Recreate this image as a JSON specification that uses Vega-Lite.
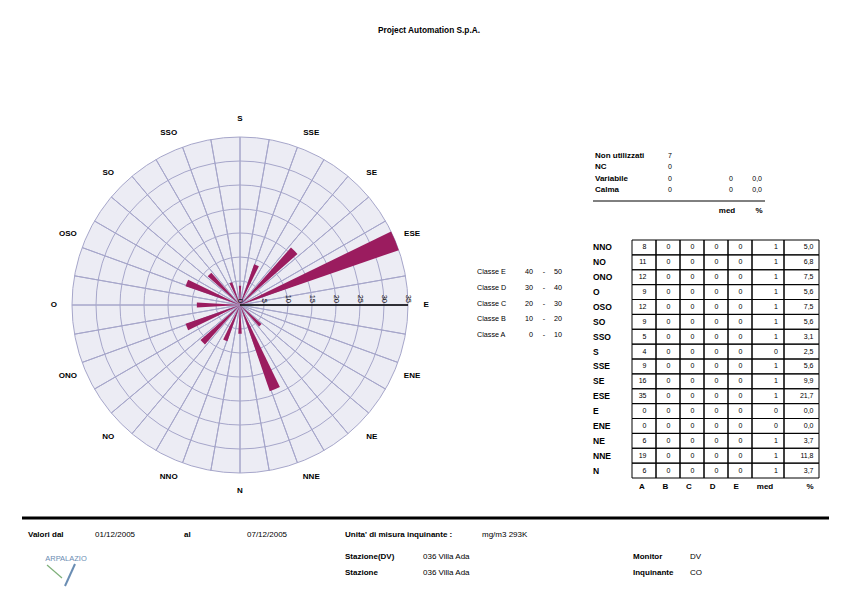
{
  "$schema": "https://vega.github.io/schema/vega-lite/v6.json",
  "padding": 0,
  "background": "white",
  "spacing": 0,
  "config": {
    "view": {"stroke": null},
    "axis": {"disable": true},
    "legend": {"disable": true},
    "font": "Liberation Sans",
    "text": {"font": "Liberation Sans", "color": "#000000"},
    "locale": {"number": {"decimal": ",", "thousands": ".", "grouping": [3], "currency": ["€", ""]}}
  },
  "datasets": {
    "winds": [
      {"dir": "N", "deg": 0, "A": 6, "B": 0, "C": 0, "D": 0, "E": 0, "med": 1, "pct": 3.7},
      {"dir": "NNE", "deg": 22.5, "A": 19, "B": 0, "C": 0, "D": 0, "E": 0, "med": 1, "pct": 11.8},
      {"dir": "NE", "deg": 45, "A": 6, "B": 0, "C": 0, "D": 0, "E": 0, "med": 1, "pct": 3.7},
      {"dir": "ENE", "deg": 67.5, "A": 0, "B": 0, "C": 0, "D": 0, "E": 0, "med": 0, "pct": 0},
      {"dir": "E", "deg": 90, "A": 0, "B": 0, "C": 0, "D": 0, "E": 0, "med": 0, "pct": 0},
      {"dir": "ESE", "deg": 112.5, "A": 35, "B": 0, "C": 0, "D": 0, "E": 0, "med": 1, "pct": 21.7},
      {"dir": "SE", "deg": 135, "A": 16, "B": 0, "C": 0, "D": 0, "E": 0, "med": 1, "pct": 9.9},
      {"dir": "SSE", "deg": 157.5, "A": 9, "B": 0, "C": 0, "D": 0, "E": 0, "med": 1, "pct": 5.6},
      {"dir": "S", "deg": 180, "A": 4, "B": 0, "C": 0, "D": 0, "E": 0, "med": 0, "pct": 2.5},
      {"dir": "SSO", "deg": 202.5, "A": 5, "B": 0, "C": 0, "D": 0, "E": 0, "med": 1, "pct": 3.1},
      {"dir": "SO", "deg": 225, "A": 9, "B": 0, "C": 0, "D": 0, "E": 0, "med": 1, "pct": 5.6},
      {"dir": "OSO", "deg": 247.5, "A": 12, "B": 0, "C": 0, "D": 0, "E": 0, "med": 1, "pct": 7.5},
      {"dir": "O", "deg": 270, "A": 9, "B": 0, "C": 0, "D": 0, "E": 0, "med": 1, "pct": 5.6},
      {"dir": "ONO", "deg": 292.5, "A": 12, "B": 0, "C": 0, "D": 0, "E": 0, "med": 1, "pct": 7.5},
      {"dir": "NO", "deg": 315, "A": 11, "B": 0, "C": 0, "D": 0, "E": 0, "med": 1, "pct": 6.8},
      {"dir": "NNO", "deg": 337.5, "A": 8, "B": 0, "C": 0, "D": 0, "E": 0, "med": 1, "pct": 5.0}
    ],
    "rings": [{"r": 5}, {"r": 10}, {"r": 15}, {"r": 20}, {"r": 25}, {"r": 30}, {"r": 35}],
    "spokes": [
      {"a": 0}, {"a": 10}, {"a": 20}, {"a": 30}, {"a": 40}, {"a": 50}, {"a": 60}, {"a": 70}, {"a": 80},
      {"a": 90}, {"a": 100}, {"a": 110}, {"a": 120}, {"a": 130}, {"a": 140}, {"a": 150}, {"a": 160}, {"a": 170},
      {"a": 180}, {"a": 190}, {"a": 200}, {"a": 210}, {"a": 220}, {"a": 230}, {"a": 240}, {"a": 250}, {"a": 260},
      {"a": 270}, {"a": 280}, {"a": 290}, {"a": 300}, {"a": 310}, {"a": 320}, {"a": 330}, {"a": 340}, {"a": 350}
    ],
    "ticks": [{"v": 0}, {"v": 5}, {"v": 10}, {"v": 15}, {"v": 20}, {"v": 25}, {"v": 30}, {"v": 35}],
    "classes": [
      {"cls": "Classe A", "from": 0, "to": 10},
      {"cls": "Classe B", "from": 10, "to": 20},
      {"cls": "Classe C", "from": 20, "to": 30},
      {"cls": "Classe D", "from": 30, "to": 40},
      {"cls": "Classe E", "from": 40, "to": 50}
    ],
    "calma": [
      {"label": "Non utilizzati", "n": 7},
      {"label": "NC", "n": 0},
      {"label": "Variabile", "n": 0, "med": 0, "pct": 0},
      {"label": "Calma", "n": 0, "med": 0, "pct": 0}
    ],
    "cols": [{"key": "A"}, {"key": "B"}, {"key": "C"}, {"key": "D"}, {"key": "E"}],
    "meta": [
      {"line": 1, "grp": "a", "label": "Valori dal", "value": "01/12/2005"},
      {"line": 1, "grp": "b", "label": "al", "value": "07/12/2005"},
      {"line": 1, "grp": "c", "label": "Unita' di misura inquinante :", "value": "mg/m3 293K"},
      {"line": 2, "grp": "d", "label": "Stazione(DV)", "value": "036 Villa Ada"},
      {"line": 3, "grp": "d", "label": "Stazione", "value": "036 Villa Ada"},
      {"line": 2, "grp": "e", "label": "Monitor", "value": "DV"},
      {"line": 3, "grp": "e", "label": "Inquinante", "value": "CO"}
    ],
    "company": [{"name": "Project Automation S.p.A.", "logo": "ARPALAZIO"}]
  },
  "vconcat": [
    {
      "width": 866,
      "height": 95,
      "data": {"name": "company"},
      "mark": {"type": "text", "fontWeight": "bold", "fontSize": 8.3, "align": "center", "baseline": "middle"},
      "encoding": {
        "x": {"datum": 429, "type": "quantitative", "scale": {"domain": [0, 866], "range": [0, 866], "nice": false, "zero": false}},
        "y": {"datum": 31, "type": "quantitative", "scale": {"domain": [0, 95], "range": [0, 95], "nice": false, "zero": false}},
        "text": {"field": "name"}
      }
    },
    {
      "hconcat": [
        {
          "width": 480,
          "height": 420,
          "layer": [
            {
              "data": {"name": "rings"},
              "transform": [{"filter": "datum.r == 35"}],
              "mark": {"type": "arc", "theta": 0, "theta2": 6.2832, "fill": "#ececf4"},
              "encoding": {"radius": {"field": "r", "type": "quantitative", "stack": null, "scale": {"type": "linear", "domain": [0, 35], "range": [0, 168], "nice": false, "zero": true}}}
            },
            {
              "data": {"name": "rings"},
              "mark": {"type": "arc", "theta": 0, "theta2": 6.2832, "fillOpacity": 0, "stroke": "#a6a6ca", "strokeWidth": 1},
              "encoding": {"radius": {"field": "r", "type": "quantitative", "stack": null, "scale": {"type": "linear", "domain": [0, 35], "range": [0, 168], "nice": false, "zero": true}}}
            },
            {
              "data": {"name": "spokes"},
              "mark": {"type": "arc", "fillOpacity": 0, "stroke": "#a6a6ca", "strokeWidth": 1},
              "encoding": {
                "theta": {"field": "a", "type": "quantitative", "stack": null, "scale": {"type": "linear", "domain": [0, 360], "range": [3.14159265, -3.14159265], "nice": false, "zero": false}},
                "theta2": {"field": "a"},
                "radius": {"datum": 35, "type": "quantitative", "scale": {"type": "linear", "domain": [0, 35], "range": [0, 168], "nice": false, "zero": true}}
              }
            },
            {
              "data": {"name": "winds"},
              "mark": {"type": "arc", "thetaOffset": -0.06, "theta2Offset": 0.06, "fill": "#9b1c5f"},
              "encoding": {
                "theta": {"field": "deg", "type": "quantitative", "stack": null, "scale": {"type": "linear", "domain": [0, 360], "range": [3.14159265, -3.14159265], "nice": false, "zero": false}},
                "theta2": {"field": "deg"},
                "radius": {"field": "A", "type": "quantitative", "stack": null, "scale": {"type": "linear", "domain": [0, 35], "range": [0, 168], "nice": false, "zero": true}}
              }
            },
            {
              "data": {"name": "winds"},
              "transform": [{"filter": "datum.dir == 'E'"}],
              "mark": {"type": "arc", "fillOpacity": 0, "stroke": "#000000", "strokeWidth": 1.3},
              "encoding": {
                "theta": {"field": "deg", "type": "quantitative", "stack": null, "scale": {"type": "linear", "domain": [0, 360], "range": [3.14159265, -3.14159265], "nice": false, "zero": false}},
                "theta2": {"field": "deg"},
                "radius": {"datum": 35, "type": "quantitative", "scale": {"type": "linear", "domain": [0, 35], "range": [0, 168], "nice": false, "zero": true}}
              }
            },
            {
              "data": {"name": "ticks"},
              "mark": {"type": "text", "angle": 90, "align": "right", "baseline": "middle", "fontSize": 7.5, "dx": -2},
              "encoding": {
                "theta": {"datum": 90, "type": "quantitative", "scale": {"type": "linear", "domain": [0, 360], "range": [3.14159265, -3.14159265], "nice": false, "zero": false}},
                "radius": {"field": "v", "type": "quantitative", "stack": null, "scale": {"type": "linear", "domain": [0, 35], "range": [0, 168], "nice": false, "zero": true}},
                "text": {"field": "v", "type": "quantitative"}
              }
            },
            {
              "data": {"name": "winds"},
              "mark": {"type": "text", "fontWeight": "bold", "fontSize": 8, "align": "center", "baseline": "middle"},
              "encoding": {
                "theta": {"field": "deg", "type": "quantitative", "stack": null, "scale": {"type": "linear", "domain": [0, 360], "range": [3.14159265, -3.14159265], "nice": false, "zero": false}},
                "radius": {"datum": 38.8, "type": "quantitative", "scale": {"type": "linear", "domain": [0, 35], "range": [0, 168], "nice": false, "zero": true}},
                "text": {"field": "dir", "type": "nominal"}
              }
            }
          ]
        },
        {
          "width": 386,
          "height": 420,
          "resolve": {"scale": {"x": "independent", "y": "independent"}},
          "layer": [
            {
              "data": {"name": "classes"},
              "mark": {"type": "text", "align": "left", "baseline": "middle", "fontSize": 7.2},
              "encoding": {
                "x": {"datum": 477, "type": "quantitative", "scale": {"domain": [480, 866], "range": [0, 386], "nice": false, "zero": false}},
                "y": {"field": "cls", "type": "nominal", "scale": {"type": "point", "domain": ["Classe E", "Classe D", "Classe C", "Classe B", "Classe A"], "range": [177, 240], "padding": 0}},
                "text": {"field": "cls", "type": "nominal"}
              }
            },
            {
              "data": {"name": "classes"},
              "mark": {"type": "text", "align": "right", "baseline": "middle", "fontSize": 7.2},
              "encoding": {
                "x": {"datum": 533, "type": "quantitative", "scale": {"domain": [480, 866], "range": [0, 386], "nice": false, "zero": false}},
                "y": {"field": "cls", "type": "nominal", "scale": {"type": "point", "domain": ["Classe E", "Classe D", "Classe C", "Classe B", "Classe A"], "range": [177, 240], "padding": 0}},
                "text": {"field": "from", "type": "quantitative"}
              }
            },
            {
              "data": {"name": "classes"},
              "mark": {"type": "text", "align": "center", "baseline": "middle", "fontSize": 7.2},
              "encoding": {
                "x": {"datum": 544, "type": "quantitative", "scale": {"domain": [480, 866], "range": [0, 386], "nice": false, "zero": false}},
                "y": {"field": "cls", "type": "nominal", "scale": {"type": "point", "domain": ["Classe E", "Classe D", "Classe C", "Classe B", "Classe A"], "range": [177, 240], "padding": 0}},
                "text": {"value": "-"}
              }
            },
            {
              "data": {"name": "classes"},
              "mark": {"type": "text", "align": "right", "baseline": "middle", "fontSize": 7.2},
              "encoding": {
                "x": {"datum": 562, "type": "quantitative", "scale": {"domain": [480, 866], "range": [0, 386], "nice": false, "zero": false}},
                "y": {"field": "cls", "type": "nominal", "scale": {"type": "point", "domain": ["Classe E", "Classe D", "Classe C", "Classe B", "Classe A"], "range": [177, 240], "padding": 0}},
                "text": {"field": "to", "type": "quantitative"}
              }
            },
            {
              "data": {"name": "calma"},
              "mark": {"type": "text", "align": "left", "baseline": "middle", "fontSize": 8, "fontWeight": "bold"},
              "encoding": {
                "x": {"datum": 595, "type": "quantitative", "scale": {"domain": [480, 866], "range": [0, 386], "nice": false, "zero": false}},
                "y": {"field": "label", "type": "nominal", "scale": {"type": "point", "domain": ["Non utilizzati", "NC", "Variabile", "Calma"], "range": [61, 95], "padding": 0}},
                "text": {"field": "label", "type": "nominal"}
              }
            },
            {
              "data": {"name": "calma"},
              "mark": {"type": "text", "align": "center", "baseline": "middle", "fontSize": 7},
              "encoding": {
                "x": {"datum": 670, "type": "quantitative", "scale": {"domain": [480, 866], "range": [0, 386], "nice": false, "zero": false}},
                "y": {"field": "label", "type": "nominal", "scale": {"type": "point", "domain": ["Non utilizzati", "NC", "Variabile", "Calma"], "range": [61, 95], "padding": 0}},
                "text": {"field": "n", "type": "quantitative"}
              }
            },
            {
              "data": {"name": "calma"},
              "transform": [{"filter": "isValid(datum.med)"}],
              "mark": {"type": "text", "align": "center", "baseline": "middle", "fontSize": 7},
              "encoding": {
                "x": {"datum": 731, "type": "quantitative", "scale": {"domain": [480, 866], "range": [0, 386], "nice": false, "zero": false}},
                "y": {"field": "label", "type": "nominal", "scale": {"type": "point", "domain": ["Non utilizzati", "NC", "Variabile", "Calma"], "range": [61, 95], "padding": 0}},
                "text": {"field": "med", "type": "quantitative"}
              }
            },
            {
              "data": {"name": "calma"},
              "transform": [{"filter": "isValid(datum.pct)"}],
              "mark": {"type": "text", "align": "right", "baseline": "middle", "fontSize": 7},
              "encoding": {
                "x": {"datum": 762, "type": "quantitative", "scale": {"domain": [480, 866], "range": [0, 386], "nice": false, "zero": false}},
                "y": {"field": "label", "type": "nominal", "scale": {"type": "point", "domain": ["Non utilizzati", "NC", "Variabile", "Calma"], "range": [61, 95], "padding": 0}},
                "text": {"field": "pct", "type": "quantitative", "format": ".1f"}
              }
            },
            {
              "data": {"name": "calma"},
              "transform": [{"filter": "datum.label == 'Calma'"}],
              "mark": {"type": "rule", "stroke": "#000000", "strokeWidth": 1},
              "encoding": {
                "x": {"datum": 593, "type": "quantitative", "scale": {"domain": [480, 866], "range": [0, 386], "nice": false, "zero": false}},
                "x2": {"datum": 765},
                "y": {"datum": 201, "type": "quantitative", "scale": {"domain": [95, 515], "range": [0, 420], "nice": false, "zero": false}}
              }
            },
            {
              "data": {"name": "calma"},
              "transform": [{"filter": "datum.label == 'Calma'"}],
              "mark": {"type": "text", "align": "center", "baseline": "middle", "fontSize": 8, "fontWeight": "bold"},
              "encoding": {
                "x": {"datum": 727, "type": "quantitative", "scale": {"domain": [480, 866], "range": [0, 386], "nice": false, "zero": false}},
                "y": {"datum": 211, "type": "quantitative", "scale": {"domain": [95, 515], "range": [0, 420], "nice": false, "zero": false}},
                "text": {"value": "med"}
              }
            },
            {
              "data": {"name": "calma"},
              "transform": [{"filter": "datum.label == 'Calma'"}],
              "mark": {"type": "text", "align": "center", "baseline": "middle", "fontSize": 8, "fontWeight": "bold"},
              "encoding": {
                "x": {"datum": 759, "type": "quantitative", "scale": {"domain": [480, 866], "range": [0, 386], "nice": false, "zero": false}},
                "y": {"datum": 211, "type": "quantitative", "scale": {"domain": [95, 515], "range": [0, 420], "nice": false, "zero": false}},
                "text": {"value": "%"}
              }
            },
            {
              "data": {"name": "winds"},
              "transform": [{"fold": ["A", "B", "C", "D", "E"], "as": ["key", "value"]}],
              "mark": {"type": "rect", "fillOpacity": 0, "stroke": "#000000", "strokeWidth": 1},
              "encoding": {
                "x": {"field": "key", "type": "nominal", "scale": {"type": "band", "domain": ["A", "B", "C", "D", "E"], "range": [152, 272], "paddingInner": 0, "paddingOuter": 0}},
                "y": {"field": "dir", "type": "nominal", "scale": {"type": "band", "domain": ["NNO", "NO", "ONO", "O", "OSO", "SO", "SSO", "S", "SSE", "SE", "ESE", "E", "ENE", "NE", "NNE", "N"], "range": [145, 383], "paddingInner": 0, "paddingOuter": 0}}
              }
            },
            {
              "data": {"name": "winds"},
              "mark": {"type": "rect", "fillOpacity": 0, "stroke": "#000000", "strokeWidth": 1},
              "encoding": {
                "x": {"datum": 752, "type": "quantitative", "scale": {"domain": [480, 866], "range": [0, 386], "nice": false, "zero": false}},
                "x2": {"datum": 784},
                "y": {"field": "dir", "type": "nominal", "scale": {"type": "band", "domain": ["NNO", "NO", "ONO", "O", "OSO", "SO", "SSO", "S", "SSE", "SE", "ESE", "E", "ENE", "NE", "NNE", "N"], "range": [145, 383], "paddingInner": 0, "paddingOuter": 0}}
              }
            },
            {
              "data": {"name": "winds"},
              "mark": {"type": "rect", "fillOpacity": 0, "stroke": "#000000", "strokeWidth": 1},
              "encoding": {
                "x": {"datum": 784, "type": "quantitative", "scale": {"domain": [480, 866], "range": [0, 386], "nice": false, "zero": false}},
                "x2": {"datum": 819},
                "y": {"field": "dir", "type": "nominal", "scale": {"type": "band", "domain": ["NNO", "NO", "ONO", "O", "OSO", "SO", "SSO", "S", "SSE", "SE", "ESE", "E", "ENE", "NE", "NNE", "N"], "range": [145, 383], "paddingInner": 0, "paddingOuter": 0}}
              }
            },
            {
              "data": {"name": "winds"},
              "transform": [{"fold": ["A", "B", "C", "D", "E"], "as": ["key", "value"]}],
              "mark": {"type": "text", "align": "right", "baseline": "middle", "fontSize": 7, "dx": 2.5},
              "encoding": {
                "x": {"field": "key", "type": "nominal", "scale": {"type": "band", "domain": ["A", "B", "C", "D", "E"], "range": [152, 272], "paddingInner": 0, "paddingOuter": 0}},
                "y": {"field": "dir", "type": "nominal", "scale": {"type": "band", "domain": ["NNO", "NO", "ONO", "O", "OSO", "SO", "SSO", "S", "SSE", "SE", "ESE", "E", "ENE", "NE", "NNE", "N"], "range": [145, 383], "paddingInner": 0, "paddingOuter": 0}},
                "text": {"field": "value", "type": "quantitative"}
              }
            },
            {
              "data": {"name": "winds"},
              "mark": {"type": "text", "align": "right", "baseline": "middle", "fontSize": 7},
              "encoding": {
                "x": {"datum": 778, "type": "quantitative", "scale": {"domain": [480, 866], "range": [0, 386], "nice": false, "zero": false}},
                "y": {"field": "dir", "type": "nominal", "scale": {"type": "band", "domain": ["NNO", "NO", "ONO", "O", "OSO", "SO", "SSO", "S", "SSE", "SE", "ESE", "E", "ENE", "NE", "NNE", "N"], "range": [145, 383], "paddingInner": 0, "paddingOuter": 0}},
                "text": {"field": "med", "type": "quantitative"}
              }
            },
            {
              "data": {"name": "winds"},
              "mark": {"type": "text", "align": "right", "baseline": "middle", "fontSize": 7},
              "encoding": {
                "x": {"datum": 813.5, "type": "quantitative", "scale": {"domain": [480, 866], "range": [0, 386], "nice": false, "zero": false}},
                "y": {"field": "dir", "type": "nominal", "scale": {"type": "band", "domain": ["NNO", "NO", "ONO", "O", "OSO", "SO", "SSO", "S", "SSE", "SE", "ESE", "E", "ENE", "NE", "NNE", "N"], "range": [145, 383], "paddingInner": 0, "paddingOuter": 0}},
                "text": {"field": "pct", "type": "quantitative", "format": ".1f"}
              }
            },
            {
              "data": {"name": "winds"},
              "mark": {"type": "text", "align": "left", "baseline": "middle", "fontSize": 8.5, "fontWeight": "bold"},
              "encoding": {
                "x": {"datum": 593, "type": "quantitative", "scale": {"domain": [480, 866], "range": [0, 386], "nice": false, "zero": false}},
                "y": {"field": "dir", "type": "nominal", "scale": {"type": "band", "domain": ["NNO", "NO", "ONO", "O", "OSO", "SO", "SSO", "S", "SSE", "SE", "ESE", "E", "ENE", "NE", "NNE", "N"], "range": [145, 383], "paddingInner": 0, "paddingOuter": 0}},
                "text": {"field": "dir", "type": "nominal"}
              }
            },
            {
              "data": {"name": "cols"},
              "mark": {"type": "text", "align": "center", "baseline": "middle", "fontSize": 8, "fontWeight": "bold"},
              "encoding": {
                "x": {"field": "key", "type": "nominal", "scale": {"type": "band", "domain": ["A", "B", "C", "D", "E"], "range": [150, 268], "paddingInner": 0, "paddingOuter": 0}},
                "y": {"datum": 487, "type": "quantitative", "scale": {"domain": [95, 515], "range": [0, 420], "nice": false, "zero": false}},
                "text": {"field": "key", "type": "nominal"}
              }
            },
            {
              "data": {"name": "company"},
              "mark": {"type": "text", "align": "center", "baseline": "middle", "fontSize": 8, "fontWeight": "bold"},
              "encoding": {
                "x": {"datum": 765, "type": "quantitative", "scale": {"domain": [480, 866], "range": [0, 386], "nice": false, "zero": false}},
                "y": {"datum": 487, "type": "quantitative", "scale": {"domain": [95, 515], "range": [0, 420], "nice": false, "zero": false}},
                "text": {"value": "med"}
              }
            },
            {
              "data": {"name": "company"},
              "mark": {"type": "text", "align": "center", "baseline": "middle", "fontSize": 8, "fontWeight": "bold"},
              "encoding": {
                "x": {"datum": 810, "type": "quantitative", "scale": {"domain": [480, 866], "range": [0, 386], "nice": false, "zero": false}},
                "y": {"datum": 487, "type": "quantitative", "scale": {"domain": [95, 515], "range": [0, 420], "nice": false, "zero": false}},
                "text": {"value": "%"}
              }
            }
          ]
        }
      ],
      "spacing": 0,
      "bounds": "flush"
    },
    {
      "width": 866,
      "height": 98,
      "resolve": {"scale": {"x": "independent", "y": "independent"}},
      "layer": [
        {
          "data": {"name": "company"},
          "mark": {"type": "rule", "stroke": "#000000", "strokeWidth": 3},
          "encoding": {
            "x": {"datum": 22, "type": "quantitative", "scale": {"domain": [0, 866], "range": [0, 866], "nice": false, "zero": false}},
            "x2": {"datum": 829},
            "y": {"datum": 518, "type": "quantitative", "scale": {"domain": [515, 613], "range": [0, 98], "nice": false, "zero": false}}
          }
        },
        {
          "data": {"name": "company"},
          "mark": {"type": "rule", "stroke": "#7fb07a", "strokeWidth": 1.2},
          "encoding": {
            "x": {"datum": 47, "type": "quantitative", "scale": {"domain": [0, 866], "range": [0, 866], "nice": false, "zero": false}},
            "x2": {"datum": 62},
            "y": {"datum": 565, "type": "quantitative", "scale": {"domain": [515, 613], "range": [0, 98], "nice": false, "zero": false}},
            "y2": {"datum": 578}
          }
        },
        {
          "data": {"name": "company"},
          "mark": {"type": "rule", "stroke": "#6a8db3", "strokeWidth": 2},
          "encoding": {
            "x": {"datum": 75, "type": "quantitative", "scale": {"domain": [0, 866], "range": [0, 866], "nice": false, "zero": false}},
            "x2": {"datum": 65},
            "y": {"datum": 564, "type": "quantitative", "scale": {"domain": [515, 613], "range": [0, 98], "nice": false, "zero": false}},
            "y2": {"datum": 586}
          }
        },
        {
          "data": {"name": "company"},
          "mark": {"type": "text", "align": "center", "baseline": "middle", "fontSize": 7.5, "color": "#6a8db3"},
          "encoding": {
            "x": {"datum": 66, "type": "quantitative", "scale": {"domain": [0, 866], "range": [0, 866], "nice": false, "zero": false}},
            "y": {"datum": 559, "type": "quantitative", "scale": {"domain": [515, 613], "range": [0, 98], "nice": false, "zero": false}},
            "text": {"field": "logo"}
          }
        },
        {
          "data": {"name": "meta"},
          "transform": [{"filter": "datum.grp == 'a'"}],
          "mark": {"type": "text", "align": "left", "baseline": "middle", "fontSize": 8, "fontWeight": "bold"},
          "encoding": {
            "x": {"datum": 28, "type": "quantitative", "scale": {"domain": [0, 866], "range": [0, 866], "nice": false, "zero": false}},
            "y": {"field": "line", "type": "quantitative", "scale": {"domain": [1, 2, 3], "range": [20, 42, 58], "nice": false, "zero": false}},
            "text": {"field": "label"}
          }
        },
        {
          "data": {"name": "meta"},
          "transform": [{"filter": "datum.grp == 'b'"}],
          "mark": {"type": "text", "align": "left", "baseline": "middle", "fontSize": 8, "fontWeight": "bold"},
          "encoding": {
            "x": {"datum": 184, "type": "quantitative", "scale": {"domain": [0, 866], "range": [0, 866], "nice": false, "zero": false}},
            "y": {"field": "line", "type": "quantitative", "scale": {"domain": [1, 2, 3], "range": [20, 42, 58], "nice": false, "zero": false}},
            "text": {"field": "label"}
          }
        },
        {
          "data": {"name": "meta"},
          "transform": [{"filter": "datum.grp == 'c' || datum.grp == 'd'"}],
          "mark": {"type": "text", "align": "left", "baseline": "middle", "fontSize": 8, "fontWeight": "bold"},
          "encoding": {
            "x": {"datum": 345, "type": "quantitative", "scale": {"domain": [0, 866], "range": [0, 866], "nice": false, "zero": false}},
            "y": {"field": "line", "type": "quantitative", "scale": {"domain": [1, 2, 3], "range": [20, 42, 58], "nice": false, "zero": false}},
            "text": {"field": "label"}
          }
        },
        {
          "data": {"name": "meta"},
          "transform": [{"filter": "datum.grp == 'e'"}],
          "mark": {"type": "text", "align": "left", "baseline": "middle", "fontSize": 8, "fontWeight": "bold"},
          "encoding": {
            "x": {"datum": 633, "type": "quantitative", "scale": {"domain": [0, 866], "range": [0, 866], "nice": false, "zero": false}},
            "y": {"field": "line", "type": "quantitative", "scale": {"domain": [1, 2, 3], "range": [20, 42, 58], "nice": false, "zero": false}},
            "text": {"field": "label"}
          }
        },
        {
          "data": {"name": "meta"},
          "transform": [{"filter": "datum.grp == 'a'"}],
          "mark": {"type": "text", "align": "left", "baseline": "middle", "fontSize": 8},
          "encoding": {
            "x": {"datum": 95, "type": "quantitative", "scale": {"domain": [0, 866], "range": [0, 866], "nice": false, "zero": false}},
            "y": {"field": "line", "type": "quantitative", "scale": {"domain": [1, 2, 3], "range": [20, 42, 58], "nice": false, "zero": false}},
            "text": {"field": "value"}
          }
        },
        {
          "data": {"name": "meta"},
          "transform": [{"filter": "datum.grp == 'b'"}],
          "mark": {"type": "text", "align": "left", "baseline": "middle", "fontSize": 8},
          "encoding": {
            "x": {"datum": 247, "type": "quantitative", "scale": {"domain": [0, 866], "range": [0, 866], "nice": false, "zero": false}},
            "y": {"field": "line", "type": "quantitative", "scale": {"domain": [1, 2, 3], "range": [20, 42, 58], "nice": false, "zero": false}},
            "text": {"field": "value"}
          }
        },
        {
          "data": {"name": "meta"},
          "transform": [{"filter": "datum.grp == 'c'"}],
          "mark": {"type": "text", "align": "left", "baseline": "middle", "fontSize": 8},
          "encoding": {
            "x": {"datum": 482, "type": "quantitative", "scale": {"domain": [0, 866], "range": [0, 866], "nice": false, "zero": false}},
            "y": {"field": "line", "type": "quantitative", "scale": {"domain": [1, 2, 3], "range": [20, 42, 58], "nice": false, "zero": false}},
            "text": {"field": "value"}
          }
        },
        {
          "data": {"name": "meta"},
          "transform": [{"filter": "datum.grp == 'd'"}],
          "mark": {"type": "text", "align": "left", "baseline": "middle", "fontSize": 8},
          "encoding": {
            "x": {"datum": 423, "type": "quantitative", "scale": {"domain": [0, 866], "range": [0, 866], "nice": false, "zero": false}},
            "y": {"field": "line", "type": "quantitative", "scale": {"domain": [1, 2, 3], "range": [20, 42, 58], "nice": false, "zero": false}},
            "text": {"field": "value"}
          }
        },
        {
          "data": {"name": "meta"},
          "transform": [{"filter": "datum.grp == 'e'"}],
          "mark": {"type": "text", "align": "left", "baseline": "middle", "fontSize": 8},
          "encoding": {
            "x": {"datum": 690, "type": "quantitative", "scale": {"domain": [0, 866], "range": [0, 866], "nice": false, "zero": false}},
            "y": {"field": "line", "type": "quantitative", "scale": {"domain": [1, 2, 3], "range": [20, 42, 58], "nice": false, "zero": false}},
            "text": {"field": "value"}
          }
        }
      ]
    }
  ]
}
